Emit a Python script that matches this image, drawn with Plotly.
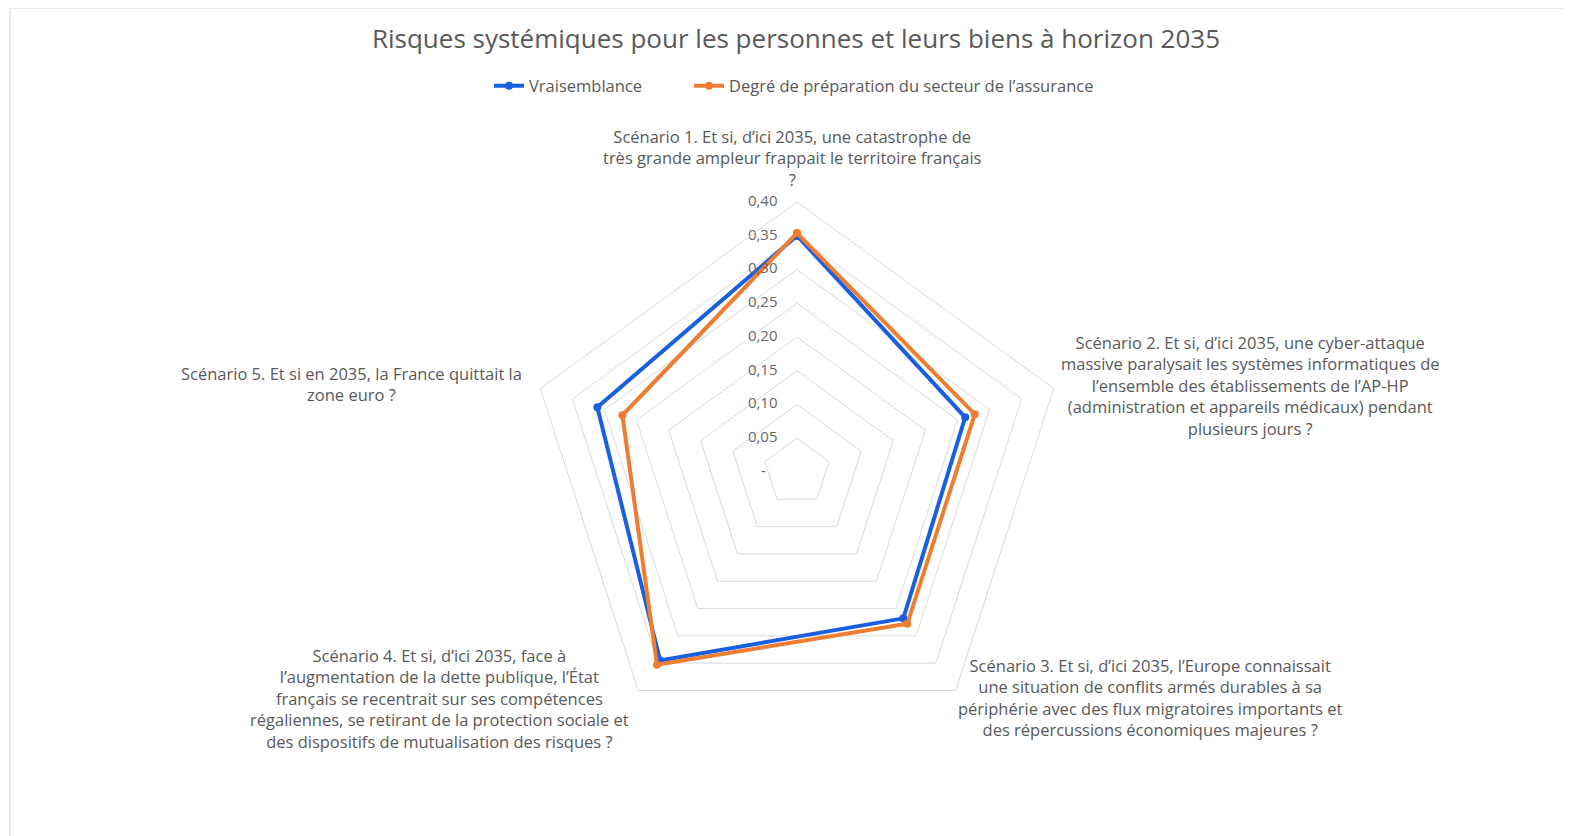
import plotly.graph_objects as go

categories = [
    "Scénario 1. Et si, d’ici 2035, une catastrophe de<br>très grande ampleur frappait le territoire français<br>?",
    "Scénario 2. Et si, d’ici 2035, une cyber-attaque<br>massive paralysait les systèmes informatiques de<br>l’ensemble des établissements de l’AP-HP<br>(administration et appareils médicaux) pendant<br>plusieurs jours ?",
    "Scénario 3. Et si, d’ici 2035, l’Europe connaissait<br>une situation de conflits armés durables à sa<br>périphérie avec des flux migratoires importants et<br>des répercussions économiques majeures ?",
    "Scénario 4. Et si, d’ici 2035, face à<br>l’augmentation de la dette publique, l’État<br>français se recentrait sur ses compétences<br>régaliennes, se retirant de la protection sociale et<br>des dispositifs de mutualisation des risques ?",
    "Scénario 5. Et si en 2035, la France quittait la<br>zone euro ?",
]
short_cats = ["S1", "S2", "S3", "S4", "S5"]
vraisemblance = [0.35, 0.262, 0.268, 0.345, 0.311]
preparation = [0.354, 0.277, 0.278, 0.353, 0.272]
tick_vals = [0, 0.05, 0.10, 0.15, 0.20, 0.25, 0.30, 0.35, 0.40]
tick_text = ["-", "0,05", "0,10", "0,15", "0,20", "0,25", "0,30", "0,35", "0,40"]

FONT = "Open Sans"
TXT = "#595959"
OFF = 8  # page body margin offset
W, H = 1572 - OFF, 836 - OFF
cx, cy, R = 797 - OFF, 472 - OFF, 270

fig = go.Figure()
for name, vals, col, leg in [("Vraisemblance", vraisemblance, "#1A5FE0", "legend"),
                             ("Degré de préparation du secteur de l’assurance", preparation, "#ED7D31", "legend2")]:
    fig.add_trace(go.Scatterpolar(
        r=vals + vals[:1], theta=short_cats + short_cats[:1], name=name, legend=leg,
        mode="lines+markers", line=dict(color=col, width=4),
        marker=dict(color=col, size=8)))

# radial tick labels, placed through the polar scale
fig.add_trace(go.Scatterpolar(
    r=[max(v, 1e-6) for v in tick_vals], theta=[short_cats[0]] * len(tick_vals),
    text=[t + "\u00a0" * (8 if t == "-" else 5) for t in tick_text], mode="text",
    textposition="middle left", textfont=dict(size=15, color="#666666", family=FONT),
    showlegend=False, hoverinfo="skip", cliponaxis=False))

leg_common = dict(orientation="h", xanchor="left", y=1 - (86 - OFF) / H, yanchor="middle",
                  font=dict(size=16.5, color=TXT, family=FONT), bgcolor="rgba(0,0,0,0)")

fig.update_layout(
    width=W, height=H, paper_bgcolor="white", plot_bgcolor="white",
    margin=dict(l=0, r=0, t=0, b=0),
    font=dict(family=FONT, color=TXT, size=16),
    title=dict(text="Risques systémiques pour les personnes et leurs biens à horizon 2035",
               x=(796 - OFF) / W, xanchor="center", y=1 - (39 - OFF) / H, yanchor="middle",
               font=dict(size=26, color=TXT, family=FONT)),
    legend=dict(x=(489 - OFF) / W, **leg_common),
    legend2=dict(x=(689 - OFF) / W, **leg_common),
    polar=dict(
        domain=dict(x=[(cx - R) / W, (cx + R) / W], y=[(H - cy - R) / H, (H - cy + R) / H]),
        gridshape="linear", bgcolor="white",
        radialaxis=dict(range=[0, 0.4], tickvals=tick_vals, showticklabels=False,
                        angle=90, showline=False, ticks="",
                        gridcolor="#D9D9D9", gridwidth=1),
        angularaxis=dict(rotation=90, direction="clockwise", showgrid=False,
                         showticklabels=False, ticks="", showline=True,
                         linecolor="#D9D9D9", linewidth=1),
    ),
    showlegend=True,
)

label_pos = [(793, 158), (1250, 385), (1150, 697), (440, 698), (351, 384)]
for text, (x, y) in zip(categories, label_pos):
    fig.add_annotation(text=text, x=(x - OFF) / W, y=1 - (y - OFF) / H, xref="paper", yref="paper",
                       showarrow=False, xanchor="center", yanchor="middle", align="center",
                       font=dict(size=16.5, color=TXT, family=FONT))

fig.add_shape(type="rect", xref="paper", yref="paper", x0=(10 - OFF) / W, x1=1.01,
              y0=-0.02, y1=1.0, line=dict(color="#D9D9D9", width=1))

fig.write_html("out.html")
